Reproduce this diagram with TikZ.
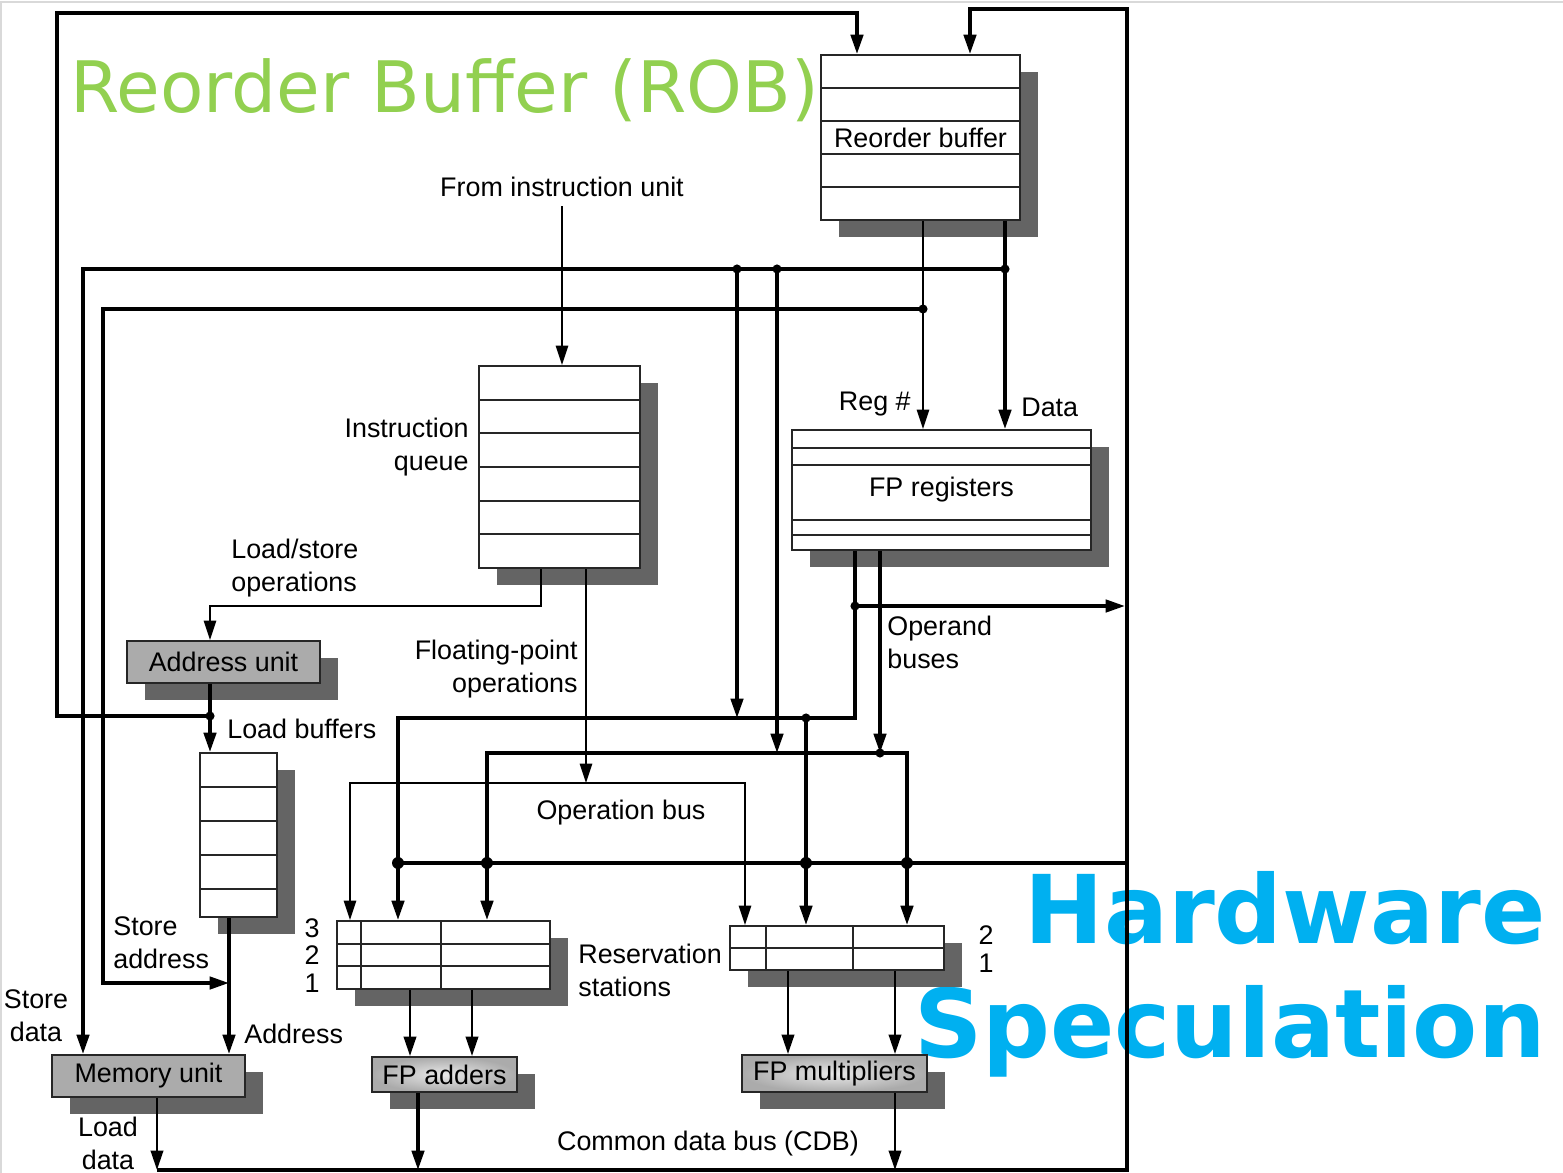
\documentclass[tikz,border=0pt]{standalone}
\usepackage{fontspec}
\setmainfont{Liberation Sans}
\newfontfamily\titlefont{DejaVu Sans}
\usepackage{tikz}
\usetikzlibrary{arrows.meta, positioning, shadows, calc}
\definecolor{shadowgray}{HTML}{646464}
\definecolor{unitgray}{HTML}{ABABAB}
\definecolor{unitlight}{HTML}{E8E8E8}
\definecolor{robgreen}{HTML}{92D050}
\definecolor{specblue}{HTML}{00B0F0}

\begin{document}
\begin{tikzpicture}[x=0.02cm, y=-0.02cm,
  lbl/.style={font=\fontsize{15.3pt}{18.7pt}\selectfont, inner sep=0pt},
  regfile/.style={lbl, draw=black!85, line width=1.1pt, fill=white,
    drop shadow={shadow xshift=0.36cm, shadow yshift=-0.34cm, fill=shadowgray, opacity=1}},
  unit/.style={regfile, fill=unitgray},
  fpunit/.style={regfile, inner color=unitlight, outer color=unitgray},
  row/.style={black!85, line width=0.8pt},
  bus/.style={line width=2pt},
  wire/.style={line width=1pt},
  link/.style={line width=1.5pt},
  arr/.style={-{Triangle[length=11pt, width=7pt]}},
  arrs/.style={{Triangle[length=11pt, width=7pt]}-{Triangle[length=11pt, width=7pt]}}
]
  \useasboundingbox (0,0) rectangle (1563,1173);
  \draw[gray!30, line width=1.5pt] (1,1173) -- (1,2) -- (1563,2);

  % Titles
  \node[inner sep=0pt, anchor=base west, text=robgreen,
    font=\titlefont\fontsize{40.4pt}{48pt}\selectfont] (robtitle) at (70,112) {Reorder Buffer (ROB)};
  \node[inner sep=0pt, anchor=base east, text=specblue,
    font=\titlefont\bfseries\fontsize{54pt}{64pt}\selectfont] (hwtitle) at (1546,943) {Hardware};
  \node[inner sep=0pt, anchor=base east, text=specblue,
    font=\titlefont\bfseries\fontsize{54pt}{64pt}\selectfont] (spectitle) at (1546,1057) {Speculation};

  % Units
  \node[regfile, minimum width=3.98cm, minimum height=3.3cm] (rob) at (920.5,137.5) {Reorder buffer};
  \node[regfile, minimum width=3.22cm, minimum height=4.04cm] (iq) at (559.5,467) {};
  \node[regfile, minimum width=5.98cm, minimum height=2.4cm] (fpr) at (941.5,490) {FP registers};
  \node[unit, minimum width=3.86cm, minimum height=0.84cm] (au) at (223.5,662) {Address unit\hspace{6pt}};
  \node[regfile, minimum width=1.54cm, minimum height=3.28cm] (lb) at (238.5,835) {};
  \node[unit, minimum width=3.86cm, minimum height=0.84cm] (mu) at (148.5,1076) {Memory unit};
  \node[regfile, minimum width=4.26cm, minimum height=1.36cm] (ars) at (443.5,955) {};
  \node[regfile, minimum width=4.28cm, minimum height=0.88cm] (mrs) at (837,948) {};
  \node[fpunit, minimum width=2.9cm, minimum height=0.7cm] (fpa) at (444.5,1074.5) {FP adders};
  \node[fpunit, minimum width=3.7cm, minimum height=0.74cm] (fpm) at (834.5,1073.5) {FP multipliers};

  % Rows and columns
  \foreach \y in {88,121,154,187} \draw[row] (rob.west |- 0,\y) -- (rob.east |- 0,\y);
  \foreach \y in {400,433,467,501,534} \draw[row] (iq.west |- 0,\y) -- (iq.east |- 0,\y);
  \foreach \y in {448,465,520,535} \draw[row] (fpr.west |- 0,\y) -- (fpr.east |- 0,\y);
  \foreach \y in {787,821,855,889} \draw[row] (lb.west |- 0,\y) -- (lb.east |- 0,\y);
  \foreach \y in {944,966} \draw[row] (ars.west |- 0,\y) -- (ars.east |- 0,\y);
  \foreach \x in {361,441} \draw[row] (ars.north -| \x,0) -- (ars.south -| \x,0);
  \draw[row] (mrs.west) -- (mrs.east);
  \foreach \x in {766,853} \draw[row] (mrs.north -| \x,0) -- (mrs.south -| \x,0);

  % Labels
  \node[lbl] (fromiu) at (562,187) {From instruction unit};
  \node[lbl, align=right, anchor=east] (iqlbl) at (469,447) {Instruction\\queue};
  \node[lbl, align=left, anchor=west] (lsops) at (231,568) {Load/store\\operations};
  \node[lbl, align=right, anchor=east] (fpops) at (578,669) {Floating-point\\operations};
  \node[lbl, anchor=east] (regno) at (911,404) {Reg \#};
  \node[lbl, anchor=west] (datalbl) at (1021,407) {Data};
  \node[lbl, align=left, anchor=west] (opbuses) at (887,642) {Operand\\buses};
  \node[lbl, anchor=west] (lblbl) at (227,729) {Load buffers};
  \node[lbl] (opbus) at (621,813) {Operation bus};
  \node[lbl, align=left, anchor=west] (staddr) at (113,943) {Store\\address};
  \node[lbl, align=center] (stdata) at (36,1016) {Store\\data};
  \node[lbl, anchor=west] (addrlbl) at (244,1034) {Address};
  \node[lbl, align=center] (lddata) at (108,1143) {Load\\data};
  \node[lbl, align=left, anchor=west] (rslbl) at (578,970) {Reservation\\stations};
  \node[lbl] (cdblbl) at (708,1144) {Common data bus (CDB)};
  \foreach \n/\y in {3/928,2/955,1/983} \node[lbl] (an\n) at (312,\y) {\n};
  \foreach \n/\y in {2/935,1/963} \node[lbl] (mn\n) at (986,\y) {\n};

  % Junctions
  \coordinate (jld) at (210,716);
  \coordinate (jdata) at (1005,269);
  \coordinate (jreg) at (923,309);
  \coordinate (jd1) at (737,269);
  \coordinate (jd2) at (777,269);
  \coordinate (jop) at (855,606);
  \coordinate (job1) at (806,718);
  \coordinate (job2) at (880,753);
  \coordinate (jc1) at (398,863);
  \coordinate (jc2) at (487,863);
  \coordinate (jc3) at (806,863);
  \coordinate (jc4) at (907,863);
  \coordinate (cdbl) at (157,1170);
  \coordinate (cdbr) at (1127,1170);
  \coordinate (cdbm) at (1127,863);
  \coordinate (opin) at (586,783);
  \coordinate (opout) at (1125,606);
  \coordinate (sain) at (229,983);

  % Instruction queue
  \draw[wire, arr, shorten <=5pt] (fromiu.south) -- (fromiu.south |- iq.north);
  \draw[wire, arr] (iq.south -| 541,0) |- (210,606) -- (au.north -| 210,0);
  \draw[wire, arr] (iq.south -| opin) -- (opin);
  \draw[wire, arrs] (ars.north -| 350,0) |- (opin) -| (mrs.north -| 745,0);

  % Loads and stores
  \draw[bus, arr] (au.south -| jld) -- (lb.north -| jld);
  \draw[bus, arr] (jld) -| (57,13) -| (rob.north -| 857,0);
  \draw[bus, arr] (lb.south -| sain) -- (mu.north -| sain);

  % Common data bus
  \draw[bus, arr] (cdbl) -- (cdbr) |- (970,9) -- (rob.north -| 970,0);
  \draw[bus] (cdbm) -- (jc1);

  % Reorder buffer outputs
  \draw[bus, arr] (rob.south -| jdata) -- (fpr.north -| jdata);
  \draw[wire, arr] (rob.south -| jreg) -- (fpr.north -| jreg);
  \draw[bus, arr] (jdata) -| (mu.north -| 83,0);
  \draw[bus, arr] (jreg) -| (103,983) -- (sain);
  \draw[bus, arr] (jd1) -- (jd1 |- job1);
  \draw[bus, arr] (jd2) -- (jd2 |- job2);

  % Operand buses
  \draw[bus, arr] (fpr.south -| jop) |- (job1) -| (ars.north -| jc1);
  \draw[bus, arr] (jop) -- (opout);
  \draw[bus, arr] (job1) -- (mrs.north -| job1);
  \draw[bus, arr] (fpr.south -| job2) -- (job2);
  \draw[bus, arrs] (ars.north -| jc2) |- (job2) -| (mrs.north -| jc4);

  % Functional units
  \draw[link, arr] (ars.south -| 410,0) -- (fpa.north -| 410,0);
  \draw[link, arr] (ars.south -| 472,0) -- (fpa.north -| 472,0);
  \draw[link, arr] (mrs.south -| 788,0) -- (fpm.north -| 788,0);
  \draw[link, arr] (mrs.south -| 895,0) -- (fpm.north -| 895,0);
  \draw[link, arr] (mu.south -| cdbl) -- (cdbl);
  \draw[bus, arr] (fpa.south -| 418,0) -- (cdbl -| 418,0);
  \draw[link, arr] (fpm.south -| 895,0) -- (cdbl -| 895,0);

  \foreach \j in {jdata,jd1,jd2,jreg,jld,jop,job1,job2} \fill (\j) circle (2.6pt);
  \foreach \j in {jc1,jc2,jc3,jc4} \fill (\j) circle (3.4pt);
\end{tikzpicture}
\end{document}
